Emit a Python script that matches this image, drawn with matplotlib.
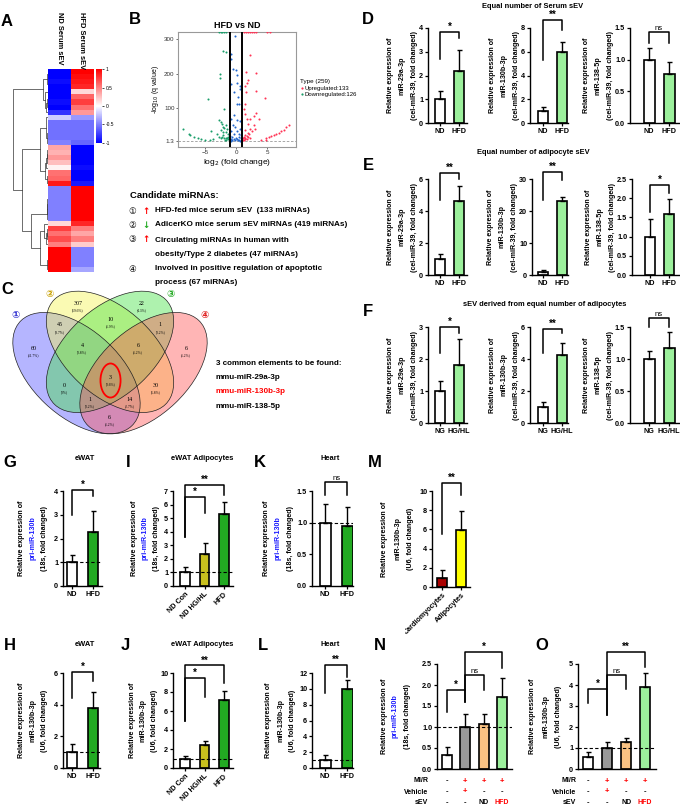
import numpy as np
import matplotlib
matplotlib.use('Agg')
import matplotlib.pyplot as plt
from matplotlib.patches import Ellipse
from matplotlib.transforms import Bbox, TransformedBbox, offset_copy
from matplotlib.lines import Line2D

plt.rcParams['font.family'] = ['Liberation Sans', 'DejaVu Sans']
plt.rcParams['axes.linewidth'] = 1.0

# ---------------- data ----------------
# heatmap (row z-scores), top to bottom
heat_nd = [-1.0, -1.0, -0.95, -1.0, -1.0, -1.0, -0.95, -1.0, -0.8, -0.2,
           -0.55, -0.55, -0.55, -0.55, -0.5, 0.35, 0.3, 0.4, 0.25, 0.05,
           0.55, 0.6, 0.9, -0.5, -0.5, -0.5, -0.5, -0.5, -0.5, -0.5,
           0.15, 0.75, 0.55, 0.7, 0.5, 1.0, 1.0, 1.0, 1.0, 1.0]
heat_hfd = [1.0, 0.95, 0.9, 0.85, 0.15, 0.6, 0.75, 0.55, 0.4, -0.4,
            -0.55, -0.55, -0.55, -0.55, -0.6, -1.0, -1.0, -1.0, -1.0, -0.95,
            -1.0, -1.0, -0.9, 1.0, 1.0, 1.0, 1.0, 1.0, 1.0, 1.0,
            0.85, 0.5, 0.35, 0.5, 0.2, -0.5, -0.5, -0.5, -0.5, -0.35]
heat_cols = ['ND Serum sEV', 'HFD Serum sEV']

# volcano plot
down_x = [-2.8, -2.5, -2.2, -1.9, -1.7, -2.1, -1.7, -2.6, -2.6, -4.5, -2.0,
          -2.8, -2.5, -2.2, -2.1, -1.9, -1.7, -2.4, -2.05, -1.6, -1.3, -1.4,
          -4.0, -3.1, -2.8, -2.5, -2.2, -1.9, -1.7, -1.4, -1.3, -2.1, -1.25, -1.6, -1.8,
          -8.6, -7.7, -7.4, -6.8, -6.2, -5.6, -5.1, -3.7, -4.3]
down_y = [321, 321, 321, 321, 321, 265, 263, 199, 187, 125, 96,
          62, 58, 52, 44, 39, 49, 34, 28, 28, 23, 38,
          31, 23, 13, 11, 13, 10, 11, 9, 13, 18, 7, 6, 5,
          38, 23, 20, 14, 11, 8, 5, 8, 5]
ns_x = [-0.15, -0.9, -0.85, -0.45, 0.05, -0.8, 0.2, 0.2, 0.6, 0.7, -0.4, 0.3, 0.1, 0.4,
        -0.3, 0.15, 0.6, -0.85, -0.55, -0.15, 0.6, 0.2, -0.8, -0.4, 0.45, 0.8, -1.0,
        -0.6, -0.05, 0.4, 0.75, -0.8, -0.4, 0.1, 0.55, 0.9, -1.0, -0.15, 0.3, -0.6, 0.7, -0.9]
ns_y = [310, 258, 243, 214, 209, 170, 195, 172, 155, 162, 145, 131, 111, 111,
        77, 62, 60, 67, 50, 42, 38, 31, 31, 23, 21, 18, 15,
        13, 11, 13, 10, 8, 7, 7, 6, 5, 5, 4, 4, 4, 3, 3]
up_x = [1.25, 1.55, 1.9, 2.2, 2.55, 2.85, 3.2, 5.0, 5.45,
        2.3, 1.55, 3.2, 1.85, 1.7, 1.45, 1.55, 3.15, 4.7, 1.4, 1.25, 1.5, 3.2, 2.85,
        2.3, 3.75, 1.7, 1.85, 2.85, 2.2, 3.1, 1.4, 2.6, 1.85, 2.1, 1.4, 1.7, 1.25,
        1.5, 1.9, 1.15, 1.4, 1.8, 2.2, 1.05, 4.1, 1.25,
        4.9, 5.35, 5.7, 6.1, 6.5, 6.9, 7.35, 7.7, 8.15, 8.6, 4.8]
up_y = [321, 321, 321, 321, 321, 321, 321, 321, 321,
        253, 204, 201, 180, 173, 162, 147, 148, 128, 111, 96, 82, 84, 74,
        67, 67, 65, 52, 50, 38, 36, 35, 31, 25, 21, 18, 15, 13,
        11, 13, 9, 8, 7, 9, 6, 5, 5,
        10, 13, 15, 18, 21, 25, 30, 35, 43, 50, 6]
n_up, n_down, n_total = 133, 126, 259

# candidate miRNA sets / Venn
candidate_lines = ['HFD-fed mice serum sEV  (133 miRNAs)',
                   'AdicerKO mice serum sEV miRNAs (419 miRNAs)',
                   'Circulating miRNAs in human with',
                   'Involved in positive regulation of apoptotic']
candidate_cont = ['', '', 'obesity/Type 2 diabetes (47 miRNAs)', 'process (67 miRNAs)']
venn_regions = ['1', '2', '3', '4', '12', '23', '34', '123', '234', '13',
                '1234', '24', '134', '124', '14']
venn_counts = [60, 307, 22, 6, 45, 10, 1, 4, 6, 0, 3, 30, 1, 14, 6]
common_mirs = ['mmu-miR-29a-3p', 'mmu-miR-130b-3p', 'mmu-miR-138-5p']

# bar charts
nd_hfd = ['ND', 'HFD']
ng_hg = ['NG', 'HG/HL']
adi_groups = ['ND Con', 'ND HG/HL', 'HFD']
cell_groups = ['Cardiomyocytes', 'Adipocytes']
d1_mean = [1.0, 2.19]; d1_err = [0.35, 0.87]
d2_mean = [1.0, 5.98]; d2_err = [0.35, 0.84]
d3_mean = [1.0, 0.77]; d3_err = [0.19, 0.20]
e1_mean = [1.0, 4.64]; e1_err = [0.34, 0.90]
e2_mean = [1.0, 23.0]; e2_err = [0.45, 1.30]
e3_mean = [1.0, 1.59]; e3_err = [0.46, 0.39]
f1_mean = [1.0, 1.81]; f1_err = [0.31, 0.81]
f2_mean = [1.0, 4.24]; f2_err = [0.32, 0.76]
f3_mean = [1.0, 1.17]; f3_err = [0.13, 0.25]
g_mean = [1.0, 2.29]; g_err = [0.32, 0.85]
i_mean = [1.0, 2.38, 5.29]; i_err = [0.39, 0.80, 0.90]
k_mean = [1.0, 0.94]; k_err = [0.29, 0.31]
m_mean = [0.97, 5.97]; m_err = [0.77, 1.95]
h_mean = [1.0, 3.77]; h_err = [0.53, 1.00]
j_mean = [1.0, 2.37, 7.14]; j_err = [0.29, 0.42, 0.98]
l_mean = [1.0, 10.0]; l_err = [0.60, 1.17]
n_mean = [0.33, 0.99, 1.07, 1.71]; n_err = [0.19, 0.33, 0.23, 0.46]
o_mean = [0.56, 0.98, 1.30, 3.92]; o_err = [0.27, 0.29, 0.16, 0.64]
mir_rows = ['MI/R', 'Vehicle', 'sEV']
mir_table = [['-', '+', '+', '+'], ['-', '+', '-', '-'], ['-', '-', 'ND', 'HFD']]

# ---------------- helpers ----------------
W, H = 680, 808
fig = plt.figure(figsize=(6.8, 8.08), dpi=100)


def rect(x0, y0, x1, y1):
    return [x0 / W, 1 - y1 / H, (x1 - x0) / W, (y1 - y0) / H]


def ftext(x, y, s, **kw):
    return fig.text(x / W, 1 - y / H, s, **kw)


WHITE = 'white'; LG = '#9cf09c'; DG = '#22aa22'; OL = '#c8c01e'
GR = '#999999'; OR = '#f9c283'; DR = '#aa0000'; YE = '#ffff00'
BLUE_TXT = '#1a1aff'
FS_TICK = 5.2
FS_YL = 5.1


def bar_panel(px, xlim, ylim, yticks, means, errs, colors, xlabels, ylabel,
              yoff, brackets, dashed=False, rot=0, fmt='{:g}', width=0.55,
              ylcolors=('black', 'black', 'black')):
    ax = fig.add_axes(rect(*px))
    x = np.arange(len(means))
    ax.bar(x, means, width=width, color=colors, edgecolor='black',
           linewidth=1.2, zorder=2)
    ax.errorbar(x, means, yerr=[np.zeros(len(means)), errs], fmt='none',
                ecolor='black', elinewidth=1.0, capsize=1.8, capthick=1.0,
                zorder=3, clip_on=False)
    if dashed:
        ax.axhline(1.0, color='black', lw=0.8, ls=(0, (3, 2)), zorder=4)
    ax.set_xlim(*xlim)
    ax.set_ylim(*ylim)
    ax.set_yticks(yticks)
    ax.set_yticklabels([fmt.format(t) for t in yticks], fontsize=FS_TICK,
                       fontweight='bold')
    for s in ['top', 'right']:
        ax.spines[s].set_visible(False)
    ax.tick_params(axis='y', length=2.5, width=0.9, pad=1)
    ax.set_xticks(x)
    if xlabels is None:
        ax.set_xticklabels([])
        ax.tick_params(axis='x', length=0)
    elif rot:
        ax.set_xticklabels(xlabels, rotation=rot, ha='right',
                           rotation_mode='anchor', fontsize=FS_TICK,
                           fontweight='bold')
        ax.tick_params(axis='x', length=2, width=0.9, pad=1.5)
    else:
        ax.set_xticklabels(xlabels, fontsize=FS_TICK, fontweight='bold')
        ax.tick_params(axis='x', length=2, width=0.9, pad=1.5)
    for line, off, col in zip(ylabel, yoff, ylcolors):
        tr = offset_copy(ax.transAxes, fig=fig, x=-off, y=0, units='dots')
        ax.text(0, 0.5, line, transform=tr, rotation=90, ha='center',
                va='center', fontsize=FS_YL, fontweight='bold', color=col)
    for (i, j, yt, yl, yr, txt) in brackets:
        ax.plot([i, i, j, j], [yl, yt, yt, yr], color='black', lw=1.1,
                clip_on=False, zorder=5)
        if '*' in txt:
            ax.text((i + j) / 2, yt, txt, ha='center', va='bottom',
                    fontsize=7, fontweight='bold', clip_on=False)
        else:
            ax.text((i + j) / 2, yt, txt, ha='center', va='bottom',
                    fontsize=5.5, clip_on=False)
    return ax


# ---------------- panel A: heatmap ----------------
hm = np.column_stack([heat_nd, heat_hfd])
axh = fig.add_axes(rect(48, 69, 93, 272))
im = axh.imshow(hm, cmap='bwr', vmin=-1, vmax=1, aspect='auto',
                interpolation='nearest')
axh.set_axis_off()
for k, lab in enumerate(heat_cols):
    ftext(59 + 23 * k, 12, lab, rotation=-90, ha='center', va='top',
          fontsize=5.4, fontweight='bold')
cax = fig.add_axes(rect(96, 69, 102, 143))
cb = fig.colorbar(im, cax=cax, ticks=[1, 0.5, 0, -0.5, -1])
cb.outline.set_visible(False)
cb.ax.set_yticklabels(['1', '0.5', '0', '-0.5', '-1'])
cb.ax.tick_params(labelsize=3.5, length=1.5, width=0.5, pad=1)

# dendrogram by adjacent agglomerative clustering of rows
axd = fig.add_axes(rect(12, 69, 48, 272))
clusters = [dict(mean=hm[i].astype(float), n=1, pos=float(i), h=0.0)
            for i in range(len(hm))]
segs = []
while len(clusters) > 1:
    best = None
    for k in range(len(clusters) - 1):
        a, b = clusters[k], clusters[k + 1]
        d = np.sqrt(a['n'] * b['n'] / (a['n'] + b['n'])) * \
            np.linalg.norm(a['mean'] - b['mean'])
        if best is None or d < best[0]:
            best = (d, k)
    d, k = best
    a, b = clusters[k], clusters[k + 1]
    hgt = max(a['h'], b['h']) + d + 0.06
    segs.append(([a['h'], hgt, hgt, b['h']], [a['pos'], a['pos'], b['pos'], b['pos']]))
    nn = a['n'] + b['n']
    clusters[k:k + 2] = [dict(mean=(a['mean'] * a['n'] + b['mean'] * b['n']) / nn,
                              n=nn, pos=(a['pos'] + b['pos']) / 2, h=hgt)]
for xs, ys in segs:
    axd.plot(xs, ys, color='#333333', lw=0.5)
axd.set_ylim(len(hm) - 0.5, -0.5)
axd.set_xlim(clusters[0]['h'] * 1.02, 0)
axd.set_axis_off()

# ---------------- panel B: volcano ----------------
axv = fig.add_axes(rect(178, 32, 296, 147))
axv.scatter(ns_x, ns_y, s=2.2, color='#2166cc', linewidths=0, zorder=3)
axv.scatter(down_x, down_y, s=2.2, color='#1a9e6a', linewidths=0, zorder=3)
axv.scatter(up_x, up_y, s=2.2, color='#ff3355', linewidths=0, zorder=3)
axv.axvline(-1, color='black', lw=1.4, zorder=4)
axv.axvline(1, color='black', lw=1.4, zorder=4)
axv.axhline(1.3, color='#999999', lw=0.6, ls=(0, (3, 2)), zorder=2)
axv.set_xlim(-9.4, 9.7)
axv.set_ylim(-16, 322)
axv.set_xticks([-5, 0, 5])
axv.set_yticks([1.3, 100, 200, 300])
axv.set_yticklabels(['1.3', '100', '200', '300'])
axv.tick_params(labelsize=4.5, length=1.5, width=0.5, pad=1, colors='#333333')
for s in axv.spines.values():
    s.set_color('#999999'); s.set_linewidth(0.8)
axv.set_title('HFD vs ND', fontsize=6.5, fontweight='bold', pad=3)
axv.set_xlabel('log$_2$ (fold change)', fontsize=6, labelpad=1)
axv.set_ylabel('-log$_{10}$ (q value)', fontsize=5, labelpad=2)
hdl = [Line2D([], [], marker='o', ls='none', ms=1.6, color='#ff3355', mec='none'),
       Line2D([], [], marker='o', ls='none', ms=1.6, color='#1a9e6a', mec='none')]
leg = axv.legend(hdl, ['Upregulated:%d' % n_up, 'Downregulated:%d' % n_down],
                 title='Type (%d)' % n_total, loc='upper left',
                 bbox_to_anchor=(1.0, 0.62), frameon=False, fontsize=4.3,
                 title_fontsize=4.5, handletextpad=0.1, borderaxespad=0.2,
                 labelspacing=0.2, handlelength=0.8, alignment='left')

# candidate text
ftext(130, 195, 'Candidate miRNAs:', fontsize=6.8, fontweight='bold', va='center')
circ = ['\u2460', '\u2461', '\u2462', '\u2463']
arrows = [('\u2191', 'red'), ('\u2193', '#22aa22'), ('\u2191', 'red'), ('', 'black')]
cand_y = [211, 225, 240, 269]
for k in range(4):
    ftext(132, cand_y[k], circ[k], fontsize=6.2, va='center', ha='center',
          family=['DejaVu Sans'])
    if arrows[k][0]:
        ftext(146, cand_y[k], arrows[k][0], fontsize=6.2, color=arrows[k][1],
              va='center', ha='center', fontweight='bold', family=['DejaVu Sans'])
    ftext(155, cand_y[k], candidate_lines[k], fontsize=5.9, fontweight='bold', va='center')
    if candidate_cont[k]:
        ftext(155, cand_y[k] + 14, candidate_cont[k], fontsize=5.9,
              fontweight='bold', va='center')

# ---------------- panel C: Venn ----------------
axc = fig.add_axes(rect(5, 288, 215, 437))
axc.set_xlim(0.03, 0.97)
axc.set_ylim(0.17, 0.87)
axc.set_axis_off()
EA, EB = 0.35, 0.2
ells = [((0.35, 0.47), -45, '#4f4fff'), ((0.5, 0.57), -45, '#f4f44a'),
        ((0.5, 0.57), 45, '#3fe03f'), ((0.65, 0.47), 45, '#ff4f4f')]
for c, ang, col in ells:
    axc.add_patch(Ellipse(c, 2 * EA, 2 * EB, angle=ang, facecolor=col,
                          alpha=0.42, edgecolor='none'))
for c, ang, col in ells:
    axc.add_patch(Ellipse(c, 2 * EA, 2 * EB, angle=ang, facecolor='none',
                          edgecolor='#222222', lw=0.5))
gx, gy = np.meshgrid(np.linspace(0, 1, 220), np.linspace(0, 1, 220))


def inside(c, ang):
    t = np.deg2rad(ang)
    dx, dy = gx - c[0], gy - c[1]
    u = dx * np.cos(t) + dy * np.sin(t)
    v = -dx * np.sin(t) + dy * np.cos(t)
    return (u / EA) ** 2 + (v / EB) ** 2 <= 1


mem = [inside(c, a) for c, a, _ in ells]
total = sum(venn_counts)
center_all = None
for key, cnt in zip(venn_regions, venn_counts):
    mask = np.ones_like(gx, bool)
    for k in range(4):
        mask &= mem[k] if str(k + 1) in key else ~mem[k]
    m = mask.copy(); last = m
    while m.any():
        last = m
        m = m & np.roll(m, 1, 0) & np.roll(m, -1, 0) & np.roll(m, 1, 1) & np.roll(m, -1, 1)
    ys, xs = np.nonzero(last)
    mx, my = gx[ys, xs].mean(), gy[ys, xs].mean()
    idx = np.argmin((gx[ys, xs] - mx) ** 2 + (gy[ys, xs] - my) ** 2)
    px_, py_ = gx[ys[idx], xs[idx]], gy[ys[idx], xs[idx]]
    axc.text(px_, py_ + 0.012, str(cnt), ha='center', va='center', fontsize=4.3,
             family=['Liberation Serif'])
    axc.text(px_, py_ - 0.02, '(%.1f%%)' % (100 * cnt / total) if cnt else '(0%)',
             ha='center', va='center', fontsize=2.6, family=['Liberation Serif'])
    if key == '1234':
        center_all = (px_, py_)
axc.add_patch(Ellipse((center_all[0], center_all[1] - 0.003), 0.09, 0.16,
                      facecolor='none', edgecolor='red', lw=1.3))
icon_cols = ['#3030d0', '#c8a000', '#22aa22', '#e02020']
for (c, ang, col), icol, ch in zip(ells, icon_cols, circ):
    t = np.deg2rad(ang)
    dirv = np.array([np.cos(t), np.sin(t)])
    if dirv[1] < 0:
        dirv = -dirv
    p = np.array(c) + 1.1 * EA * dirv
    axc.text(p[0], p[1], ch, ha='center', va='center', fontsize=7, color=icol,
             family=['DejaVu Sans'], fontweight='bold')
ftext(216, 363, '%d common elements to be found:' % len(common_mirs),
      fontsize=5.8, fontweight='bold', va='center')
for k, mname in enumerate(common_mirs):
    ftext(216, 377 + 14.5 * k, mname, fontsize=5.8, fontweight='bold',
          va='center', color='red' if k == 1 else 'black')

# ---------------- panels D, E, F ----------------
yl_29 = ['Relative expression of', 'miR-29a-3p', '(cel-miR-39, fold changed)']
yl_130 = ['Relative expression of', 'miR-130b-3p', '(cel-miR-39, fold changed)']
yl_138 = ['Relative expression of', 'miR-138-5p', '(cel-miR-39, fold changed)']
f1 = '{:.1f}'
bar_panel((428, 28, 467, 123), (-0.63, 1.42), (0, 4), [0, 1, 2, 3, 4], d1_mean, d1_err,
          [WHITE, LG], nd_hfd, yl_29, [38, 26, 14], [(0, 1, 3.83, 2.7, 3.6, '*')])
bar_panel((530, 28, 568, 123), (-0.68, 1.32), (0, 8), [0, 2, 4, 6, 8], d2_mean, d2_err,
          [WHITE, LG], nd_hfd, yl_130, [38, 26, 14], [(0, 1, 8.67, 5.3, 7.8, '**')])
bar_panel((630, 28, 680, 123), (-0.95, 1.55), (0, 1.5), [0, 0.5, 1.0, 1.5], d3_mean, d3_err,
          [WHITE, LG], nd_hfd, yl_138, [44, 32, 20], [(0, 1, 1.44, 1.26, 1.26, 'ns')], fmt=f1)
bar_panel((428, 179, 467, 275), (-0.63, 1.42), (0, 6), [0, 2, 4, 6], e1_mean, e1_err,
          [WHITE, LG], nd_hfd, yl_29, [38, 26, 14], [(0, 1, 6.37, 4.7, 6.0, '**')])
bar_panel((532, 179, 568, 275), (-0.58, 1.32), (0, 30), [0, 10, 20, 30], e2_mean, e2_err,
          [WHITE, LG], nd_hfd, yl_130, [42, 30, 18], [(0, 1, 32.2, 23.4, 29.7, '**')])
bar_panel((632, 179, 680, 275), (-0.95, 1.58), (0, 2.5), [0, 0.5, 1.0, 1.5, 2.0, 2.5],
          e3_mean, e3_err, [WHITE, LG], nd_hfd, yl_138, [44, 32, 20],
          [(0, 1, 2.34, 1.64, 2.13, '*')], fmt=f1)
bar_panel((428, 327, 467, 423), (-0.63, 1.42), (0, 3), [0, 1, 2, 3], f1_mean, f1_err,
          [WHITE, LG], ng_hg, yl_29, [38, 26, 14], [(0, 1, 3.0, 2.2, 2.8, '*')])
bar_panel((530, 327, 568, 423), (-0.68, 1.32), (0, 6), [0, 2, 4, 6], f2_mean, f2_err,
          [WHITE, LG], ng_hg, yl_130, [38, 26, 14], [(0, 1, 5.87, 4.4, 5.6, '**')])
bar_panel((630, 327, 680, 423), (-0.95, 1.55), (0, 1.5), [0, 0.5, 1.0, 1.5], f3_mean, f3_err,
          [WHITE, LG], ng_hg, yl_138, [44, 32, 20], [(0, 1, 1.64, 1.5, 1.5, 'ns')], fmt=f1)

# ---------------- panels G-O ----------------
yl_pri = ['Relative expression of', 'pri-miR-130b', '(18s, fold changed)']
yl_u6 = ['Relative expression of', 'miR-130b-3p', '(U6, fold changed)']
pri_cols = ('black', BLUE_TXT, 'black')
bar_panel((63, 491, 102, 586), (-0.43, 1.43), (0, 4), [0, 1, 2, 3, 4], g_mean, g_err,
          [WHITE, DG], nd_hfd, yl_pri, [41, 30, 18], [(0, 1, 4.04, 3.0, 3.8, '*')],
          dashed=True, width=0.5, ylcolors=pri_cols)
bar_panel((173, 491, 233, 586), (-0.62, 2.46), (0, 7), list(range(8)), i_mean, i_err,
          [WHITE, OL, DG], adi_groups, yl_pri, [39, 28, 16],
          [(0, 1, 6.56, 3.6, 5.4, '*'), (0, 2, 7.44, 3.6, 6.7, '**')],
          dashed=True, rot=45, width=0.5, ylcolors=pri_cols)
bar_panel((312, 491, 353, 586), (-0.6, 1.27), (0, 1.5), [0, 0.5, 1.0, 1.5], k_mean, k_err,
          [WHITE, DG], nd_hfd, yl_pri, [45, 34, 22], [(0, 1, 1.64, 1.44, 1.44, 'ns')],
          dashed=True, fmt=f1, width=0.5, ylcolors=pri_cols)
axm = bar_panel((432, 491, 470, 587), (-0.53, 1.47), (0, 10), [0, 2, 4, 6, 8, 10], m_mean,
                m_err, [DR, YE], cell_groups, yl_u6, [47, 34, 22],
                [(0, 1, 10.8, 5.5, 9.6, '**')], rot=45, width=0.5)
clipbb = TransformedBbox(Bbox.from_extents(405 / W, 0, 1, 1), fig.transFigure)
for lbl in axm.get_xticklabels():
    lbl.set_clip_on(True)
    lbl.set_clip_box(clipbb)
bar_panel((63, 673, 100, 768), (-0.43, 1.33), (0, 6), [0, 2, 4, 6], h_mean, h_err,
          [WHITE, DG], nd_hfd, yl_u6, [41, 30, 18], [(0, 1, 6.06, 4.4, 5.5, '*')],
          dashed=True, width=0.5)
bar_panel((173, 673, 233, 768), (-0.62, 2.46), (0, 10), [0, 2, 4, 6, 8, 10], j_mean, j_err,
          [WHITE, OL, DG], adi_groups, yl_u6, [41, 30, 18],
          [(0, 1, 9.5, 5.0, 7.5, '*'), (0, 2, 10.8, 5.0, 9.0, '**')],
          dashed=True, rot=45, width=0.5)
bar_panel((312, 673, 353, 768), (-0.6, 1.27), (0, 12), [0, 2, 4, 6, 8, 10, 12], l_mean,
          l_err, [WHITE, DG], nd_hfd, yl_u6, [43, 31, 19],
          [(0, 1, 13.0, 9.5, 11.5, '**')], dashed=True, width=0.5)
axn = bar_panel((437, 664, 512, 769), (-0.55, 3.55), (0, 2.5),
                [0, 0.5, 1.0, 1.5, 2.0, 2.5], n_mean, n_err, [WHITE, GR, OR, LG], None,
                yl_pri, [53, 42, 30],
                [(0, 1, 1.88, 1.36, 1.6, '*'), (1, 2, 2.24, 1.88, 1.88, 'ns'),
                 (1, 3, 2.79, 1.6, 2.4, '*')], dashed=True, fmt=f1, width=0.55,
                ylcolors=pri_cols)
axo = bar_panel((578, 664, 656, 769), (-0.53, 3.57), (0, 5), [0, 1, 2, 3, 4, 5], o_mean,
                o_err, [WHITE, GR, OR, LG], None, yl_u6, [45, 32, 20],
                [(0, 1, 3.8, 3.13, 2.57, '*'), (1, 2, 4.48, 3.8, 3.8, 'ns'),
                 (1, 3, 5.57, 2.57, 4.87, '**')], dashed=True, width=0.55)
for ax, lab_x in [(axn, 428), (axo, 576)]:
    for r, (rname, vals) in enumerate(zip(mir_rows, mir_table)):
        yy = 781 + 11 * r
        ftext(lab_x, yy, rname, ha='right', va='center', fontsize=5,
              fontweight='bold')
        for c, v in enumerate(vals):
            col = 'red' if v in ('+', 'HFD') else 'black'
            trx = ax.transData.transform((c, 0))[0]
            fig.text(trx / fig.bbox.width, 1 - yy / H, v, ha='center', va='center',
                     fontsize=5.5 if v in '+-' else 5, fontweight='bold', color=col)

# titles
for (x, y, s) in [(533, 6, 'Equal number of Serum sEV'),
                  (533, 153, 'Equal number of adipocyte sEV'),
                  (545, 305, 'sEV derived from equal number of adipocytes'),
                  (85, 459, 'eWAT'), (202, 459, 'eWAT Adipocytes'), (330, 459, 'Heart'),
                  (85, 645, 'eWAT'), (202, 645, 'eWAT Adipocytes'), (330, 645, 'Heart')]:
    ftext(x, y, s, ha='center', va='center', fontsize=5.4, fontweight='bold')

# panel letters
for (x, y, s) in [(7, 22, 'A'), (135, 20, 'B'), (7, 290, 'C'), (368, 20, 'D'),
                  (368, 165, 'E'), (368, 312, 'F'), (10, 463, 'G'), (128, 463, 'I'),
                  (260, 463, 'K'), (375, 463, 'M'), (10, 645, 'H'), (125, 645, 'J'),
                  (263, 645, 'L'), (380, 645, 'N'), (542, 645, 'O')]:
    ftext(x, y, s, ha='center', va='center', fontsize=12, fontweight='bold')

fig.savefig('out.png', dpi=100)
